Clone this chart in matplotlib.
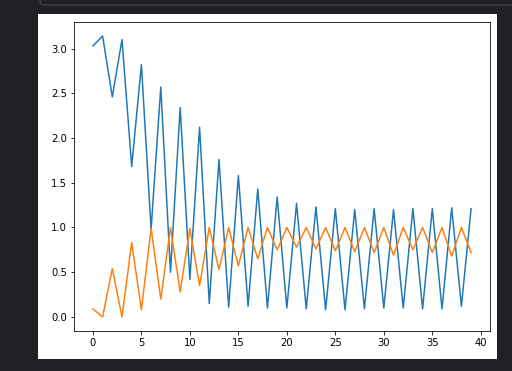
import matplotlib
matplotlib.use("Agg")
import matplotlib.pyplot as plt
from matplotlib.patches import Rectangle, FancyBboxPatch

# values
blue = [3.03, 3.14, 2.46, 3.10, 1.68, 2.82, 0.98, 2.57, 0.50, 2.34,
        0.42, 2.12, 0.15, 1.76, 0.11, 1.58, 0.12, 1.43, 0.10, 1.34,
        0.10, 1.27, 0.09, 1.23, 0.08, 1.21, 0.08, 1.20, 0.09, 1.21,
        0.10, 1.20, 0.10, 1.21, 0.09, 1.21, 0.09, 1.22, 0.12, 1.21]
orange = [0.09, 0.00, 0.54, 0.00, 0.83, 0.08, 0.99, 0.20, 1.00, 0.28,
          0.99, 0.35, 1.00, 0.53, 1.00, 0.57, 1.00, 0.65, 1.00, 0.75,
          1.00, 0.78, 1.00, 0.76, 1.00, 0.74, 1.00, 0.73, 1.00, 0.72,
          1.00, 0.69, 1.00, 0.75, 1.00, 0.72, 1.00, 0.68, 1.00, 0.72]
steps = list(range(len(blue)))

W, H = 512, 371
fig = plt.figure(figsize=(W / 72, H / 72), dpi=72, facecolor="#202124")

# notebook frame behind the figure
fig.patches.append(FancyBboxPatch((40 / W, 1 - 5 / H), 480 / W, 20 / H,
                                  boxstyle="round,pad=0,rounding_size=0.01",
                                  transform=fig.transFigure, facecolor="#202124",
                                  edgecolor="#4a4a4e", linewidth=1, zorder=-2))
fig.patches.append(Rectangle((38 / W, 1 - 359 / H), 459 / W, 345 / H,
                             transform=fig.transFigure, facecolor="white",
                             edgecolor="none", zorder=-1))

ax = fig.add_axes([74 / W, 1 - 331 / H, 416 / W, 309 / H])
ax.plot(steps, blue)
ax.plot(steps, orange)

fig.savefig("out.png", dpi=72, facecolor=fig.get_facecolor())
